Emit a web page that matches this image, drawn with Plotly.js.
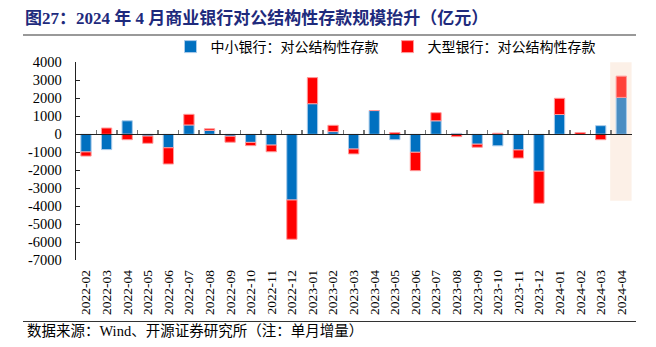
<!DOCTYPE html>
<html>
<head>
<meta charset="utf-8">
<script src="https://cdn.plot.ly/plotly-3.0.1.min.js"></script>
<style>
html,body{margin:0;padding:0;background:#fff;}
#chart{width:656px;height:347px;}
</style>
</head>
<body>
<div id="chart"></div>
<script>
// ---- data ----
const months = ["2022-02","2022-03","2022-04","2022-05","2022-06","2022-07","2022-08","2022-09","2022-10","2022-11","2022-12",
  "2023-01","2023-02","2023-03","2023-04","2023-05","2023-06","2023-07","2023-08","2023-09","2023-10","2023-11","2023-12",
  "2024-01","2024-02","2024-03","2024-04"];
const smallMidBanks = [-980,-850,750,-100,-750,520,220,-110,-450,-600,-3650,
  1700,150,-820,1320,-300,-1000,750,50,-550,-640,-870,-2050,
  1100,0,480,2050];
const largeBanks = [-230,350,-300,-400,-900,590,90,-330,-180,-370,-2180,
  1450,350,-270,0,100,-1020,450,-130,-170,60,-450,-1780,
  900,100,-300,1180];
const yTicks = [4000,3000,2000,1000,0,-1000,-2000,-3000,-4000,-5000,-6000,-7000];
const seriesNames = ["中小银行：对公结构性存款","大型银行：对公结构性存款"];
const titleText = "图27：2024 年 4 月商业银行对公结构性存款规模抬升（亿元）";
const sourceText = "数据来源：Wind、开源证券研究所（注：单月增量）";

// ---- styles ----
const W = 656, H = 347;
const last = months.length - 1;
const blueCol = months.map((m,i)=> i===last ? "#4B8DC2" : "#0070C0");
const redCol = months.map((m,i)=> i===last ? "#FF4139" : "#FF0000");
const serif = "'Liberation Serif','Times New Roman','Noto Sans CJK SC',serif";
const cjk = "'Liberation Serif','Noto Sans CJK SC',serif";

const traces = [
  {type:"bar", name:seriesNames[0], x:months, y:smallMidBanks,
   marker:{color:blueCol, line:{color:"#A9CBEA", width:1}}, hoverinfo:"x+y"},
  {type:"bar", name:seriesNames[1], x:months, y:largeBanks,
   marker:{color:redCol, line:{color:"#FF9A9A", width:1}}, hoverinfo:"x+y"},
  {type:"scatter", mode:"none", x:months, y:smallMidBanks, xaxis:"x2", yaxis:"y",
   showlegend:false, hoverinfo:"skip"},
  // empty helper subplots whose bottom axis lines serve as the title / source rules
  {type:"scatter", mode:"none", x:months, y:smallMidBanks, xaxis:"x3", yaxis:"y3",
   showlegend:false, hoverinfo:"skip"},
  {type:"scatter", mode:"none", x:months, y:smallMidBanks, xaxis:"x4", yaxis:"y4",
   showlegend:false, hoverinfo:"skip"}
];

const xDom = [75.7/W, 631.6/W];
const yDom = [1-260.3/H, 1-62.3/H];
const ruleDom = [23/W, 636/W];

function ruleX(yAx, color, width){
  return {type:"category", categoryorder:"array", categoryarray:months, range:[-0.5,26.5],
          domain:ruleDom, anchor:yAx, side:"bottom",
          showline:true, linecolor:color, linewidth:width, ticks:"", showticklabels:false,
          showgrid:false, zeroline:false, fixedrange:true};
}
function ruleY(xAx, yPx){
  const b = 1 - yPx/H;
  return {domain:[b, b+0.004], anchor:xAx, range:[-7000,4000], visible:false,
          showgrid:false, zeroline:false, showline:false, fixedrange:true};
}

const layout = {
  width:W, height:H,
  margin:{l:0, r:0, t:0, b:0, pad:0},
  paper_bgcolor:"#fff", plot_bgcolor:"rgba(0,0,0,0)",
  barmode:"relative", bargap:0.5,
  font:{family:serif, color:"#000"},
  title:{text:"<b>"+titleText+"</b>", x:25/W, xanchor:"left", xref:"container",
         y:1-18/H, yanchor:"middle", yref:"container",
         font:{family:cjk, size:17, color:"#1E2A7C"}},
  showlegend:true,
  legend:{orientation:"h", x:170.5/W, xanchor:"left", y:1-47/H, yanchor:"middle",
          font:{family:cjk, size:14, color:"#000"}, itemwidth:30, entrywidth:172,
          bgcolor:"rgba(0,0,0,0)", traceorder:"normal"},
  xaxis:{type:"category", categoryorder:"array", categoryarray:months, range:[-0.5,26.5],
         domain:xDom, anchor:"y",
         showline:false, ticks:"", tickangle:-90, showgrid:false, zeroline:false,
         ticklabelstandoff:6, automargin:false,
         tickfont:{family:serif, size:13.5, color:"#000"}, fixedrange:true},
  xaxis2:{type:"category", categoryorder:"array", categoryarray:months, range:[-0.5,26.5],
          domain:xDom,
          overlaying:"x", anchor:"free", position:yDom[0] + (yDom[1]-yDom[0])*7000/11000,
          showline:true, linecolor:"#222", linewidth:1,
          ticks:"inside", tickson:"boundaries", ticklen:4, tickcolor:"#777", tickwidth:1.5,
          showticklabels:false, showgrid:false, zeroline:false, fixedrange:true},
  xaxis3: ruleX("y3", "#999999", 2),
  yaxis3: ruleY("x3", 34.3),
  xaxis4: ruleX("y4", "#333333", 1),
  yaxis4: ruleY("x4", 320.7),
  yaxis:{range:[-7000,4000], domain:yDom, anchor:"x", tickvals:yTicks, ticktext:yTicks.map(String),
         showline:true, linecolor:"#222", linewidth:1, ticks:"inside", ticklen:4, tickcolor:"#222",
         showgrid:false, zeroline:false, tickfont:{family:serif, size:14.5, color:"#000"},
         ticklabelstandoff:10, automargin:false, fixedrange:true},
  shapes:[
    {type:"rect", xref:"x", yref:"y", x0:25.46, x1:26.65, y0:-3690, y1:4290,
     fillcolor:"#FCF0E7", line:{width:0}, layer:"below"}
  ],
  annotations:[
    {text:sourceText, xref:"paper", yref:"paper", x:25/W, xanchor:"left", y:1-331/H, yanchor:"middle",
     showarrow:false, font:{family:cjk, size:14.5, color:"#000"}}
  ]
};

Plotly.newPlot("chart", traces, layout, {displayModeBar:false, staticPlot:true});
</script>
</body>
</html>
